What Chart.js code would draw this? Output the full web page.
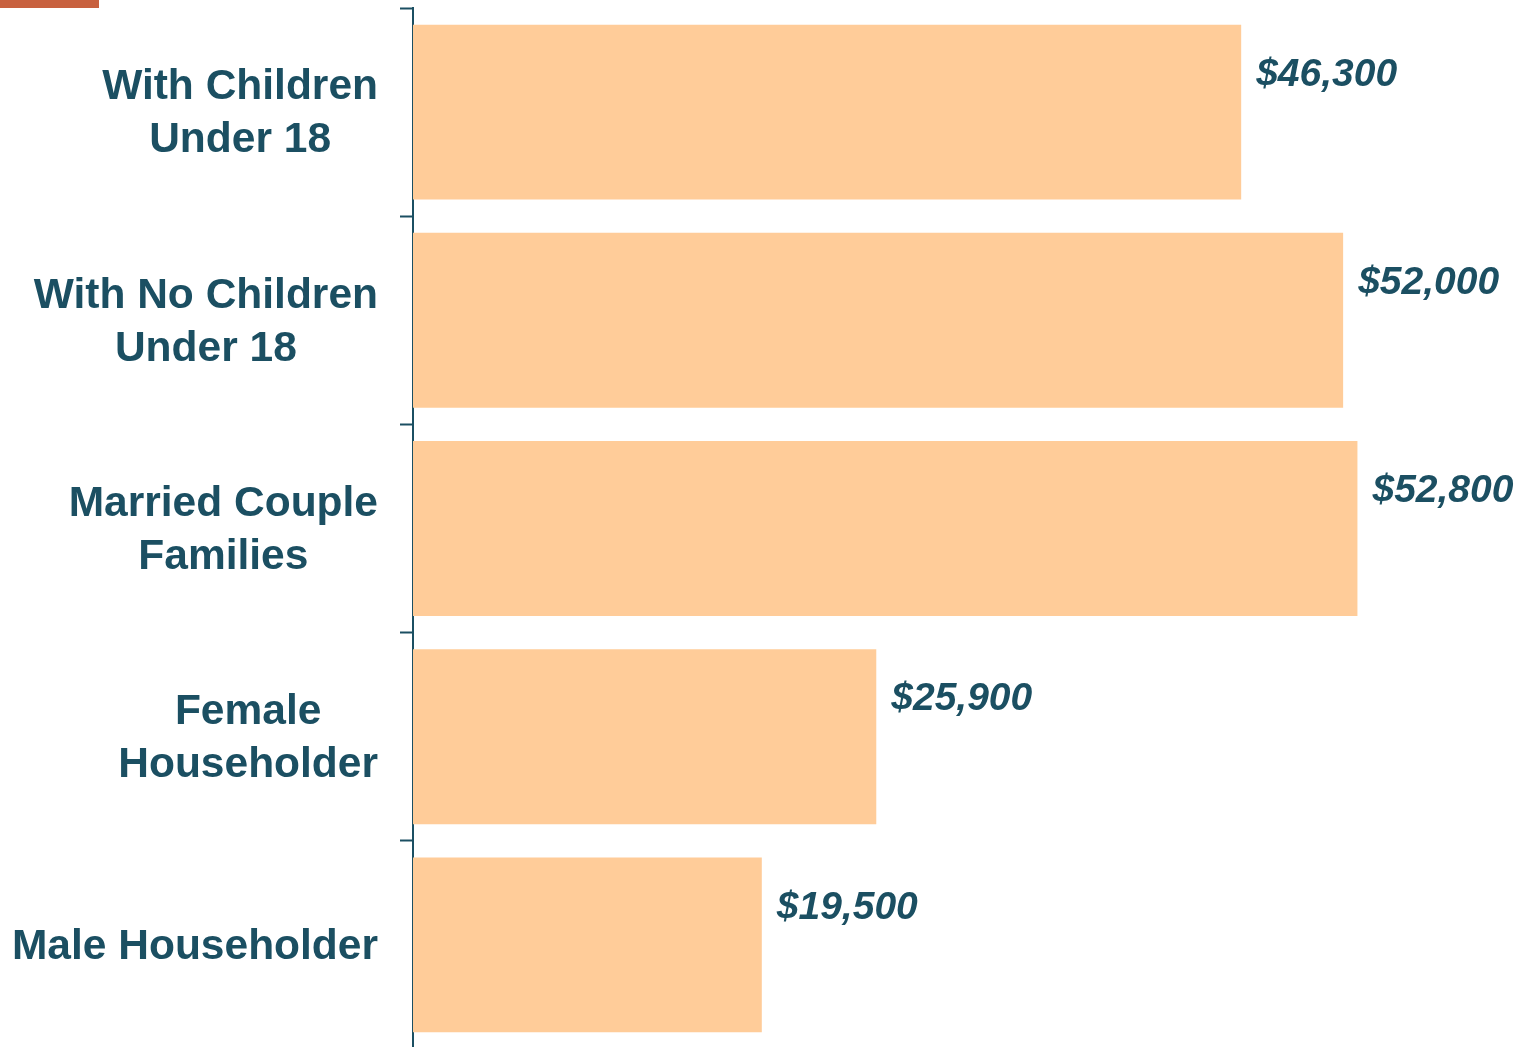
<!DOCTYPE html>
<html lang="en">
<head>
    <meta charset="UTF-8">
    <title>Median Family Income by Family Type</title>
    <script src="https://cdn.jsdelivr.net/npm/chart.js"></script>
    <style>
        html, body {
            margin: 0;
            padding: 0;
            background: #ffffff;
            overflow: hidden;
        }
        #accent {
            position: absolute;
            left: 0;
            top: 0;
            width: 99px;
            height: 8px;
            background: #C8613F;
        }
        #chart-container {
            position: absolute;
            left: 0;
            top: 0;
            width: 1522px;
            height: 1049px;
        }
    </style>
</head>
<body>
    <div id="chart-container">
        <canvas id="myChart"></canvas>
    </div>
    <div id="accent"></div>

    <script>
        const categories = [
            ['With Children', 'Under 18'],
            ['With No Children', 'Under 18'],
            ['Married Couple', 'Families'],
            ['Female', 'Householder'],
            ['Male Householder']
        ];
        const incomes = [46300, 52000, 52800, 25900, 19500];

        const teal = '#1B4F62';
        const labelFont = 'bold 42.5px "Liberation Sans", Arial, sans-serif';
        const valueFont = 'italic bold 39px "Liberation Sans", Arial, sans-serif';

        // category labels: block right-aligned, lines centred to each other
        const categoryLabels = {
            id: 'categoryLabels',
            afterDraw(chart) {
                const ctx = chart.ctx;
                const yScale = chart.scales.y;
                const rightEdge = 378;
                const lineHeight = 53;
                ctx.save();
                ctx.font = labelFont;
                ctx.fillStyle = teal;
                ctx.textAlign = 'center';
                ctx.textBaseline = 'middle';
                categories.forEach((lines, i) => {
                    const maxW = Math.max(...lines.map(l => ctx.measureText(l).width));
                    const cx = rightEdge - maxW / 2;
                    const cy = yScale.getPixelForValue(i) + 2;
                    const startY = cy - (lines.length - 1) * lineHeight / 2;
                    lines.forEach((line, j) => {
                        ctx.fillText(line, cx, startY + j * lineHeight);
                    });
                });
                ctx.restore();
            }
        };

        // value labels to the right of each bar, a bit above centre
        const valueLabels = {
            id: 'valueLabels',
            afterDatasetsDraw(chart) {
                const ctx = chart.ctx;
                const meta = chart.getDatasetMeta(0);
                ctx.save();
                ctx.font = valueFont;
                ctx.fillStyle = teal;
                ctx.textAlign = 'left';
                ctx.textBaseline = 'middle';
                meta.data.forEach((bar, i) => {
                    const text = '$' + incomes[i].toLocaleString('en-US');
                    ctx.fillText(text, bar.x + 15, bar.y - 37);
                });
                ctx.restore();
            }
        };

        const ctx = document.getElementById('myChart').getContext('2d');
        new Chart(ctx, {
            type: 'bar',
            data: {
                labels: categories,
                datasets: [{
                    data: incomes,
                    backgroundColor: '#FFCC99',
                    borderWidth: 0,
                    barPercentage: 0.84,
                    categoryPercentage: 1.0
                }]
            },
            options: {
                indexAxis: 'y',
                responsive: true,
                maintainAspectRatio: false,
                animation: false,
                layout: {
                    padding: { top: 8, right: 0, bottom: 0, left: 0 }
                },
                plugins: {
                    legend: { display: false },
                    tooltip: { enabled: false }
                },
                scales: {
                    x: {
                        display: false,
                        min: 0,
                        max: 62000
                    },
                    y: {
                        ticks: { display: false },
                        grid: {
                            display: true,
                            drawOnChartArea: false,
                            drawTicks: true,
                            tickLength: 13,
                            tickWidth: 2,
                            color: teal,
                            offset: true
                        },
                        border: {
                            display: true,
                            color: teal,
                            width: 2
                        },
                        afterFit(scale) {
                            scale.width = 413;
                        }
                    }
                }
            },
            plugins: [categoryLabels, valueLabels]
        });
    </script>
</body>
</html>
